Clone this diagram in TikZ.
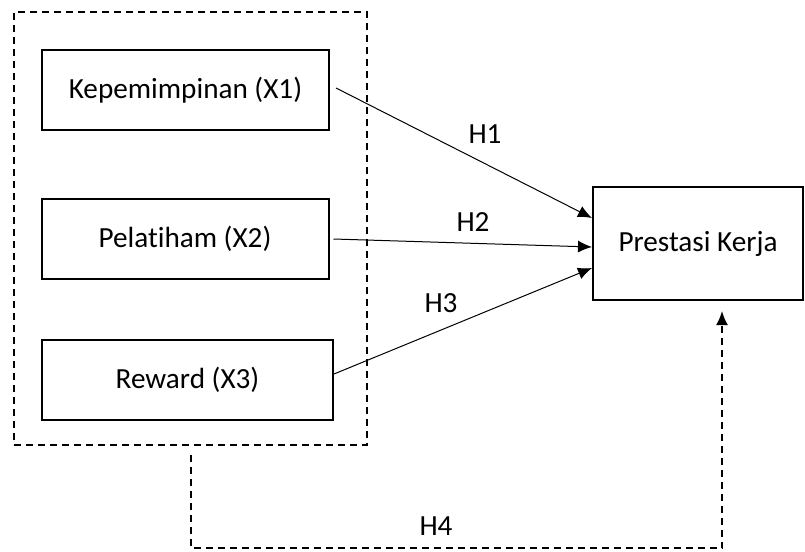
\documentclass[tikz,border=0pt]{standalone}
\usepackage{fontspec}
\setmainfont{Carlito}[Ligatures=NoCommon]
\usepackage{tikz}
\usetikzlibrary{arrows.meta,positioning}
\tikzset{
    node style var/.style={draw,rectangle,line width=1pt,minimum width=143.5pt,minimum height=40pt,font=\fontsize{14.6}{17}\selectfont},
    node style grup/.style={draw,dashed,dash pattern=on 3.5pt off 2.5pt,line width=1pt,minimum width=176.5pt,minimum height=216.5pt},
    node style lbl/.style={font=\fontsize{14.6}{17}\selectfont},
    arrow style h/.style={->,line width=0.5pt},
}

\begin{document}
\begin{tikzpicture}[>={Latex[length=7pt,width=6pt]},x=0.5pt,y=-0.5pt]
\useasboundingbox (0,0) rectangle (805,552);
% kotak variabel bebas
\node [node style grup] (grup) at (190.5,228.5) {};
\node [node style var] (kep) at (185.5,90) {Kepemimpinan (X1)};
\node [node style var] (pel) at (185,239) {Pelatiham (X2)};
\node [node style var,minimum width=145.5pt] (rew) at (187.5,380) {Reward (X3)};
% variabel terikat
\node [node style var,minimum width=105pt,minimum height=56.5pt] (pk) at (698,243.5) {Prestasi Kerja};
\coordinate (sudut) at (722,548);
% label hipotesis
\node [node style lbl] (h1) at (485,134) {H1};
\node [node style lbl] (h2) at (473,222) {H2};
\node [node style lbl] (h3) at (441,303) {H3};
\node [node style lbl] (h4) at (436,526) {H4};
% panah
\draw [arrow style h] ([xshift=3pt,yshift=1pt]kep.east) -- ([yshift=12.75pt]pk.west);
\draw [arrow style h] ([xshift=2pt]pel.east) -- ([yshift=-1.75pt]pk.west);
\draw [arrow style h] ([yshift=3pt]rew.east) -- ([yshift=-12.25pt]pk.west);
\draw [->,dashed,dash pattern=on 3.5pt off 2.5pt,line width=1pt,shorten <=4.5pt,shorten >=5pt] (grup.south) |- (sudut) -- (sudut |- pk.south);
\end{tikzpicture}
\end{document}
